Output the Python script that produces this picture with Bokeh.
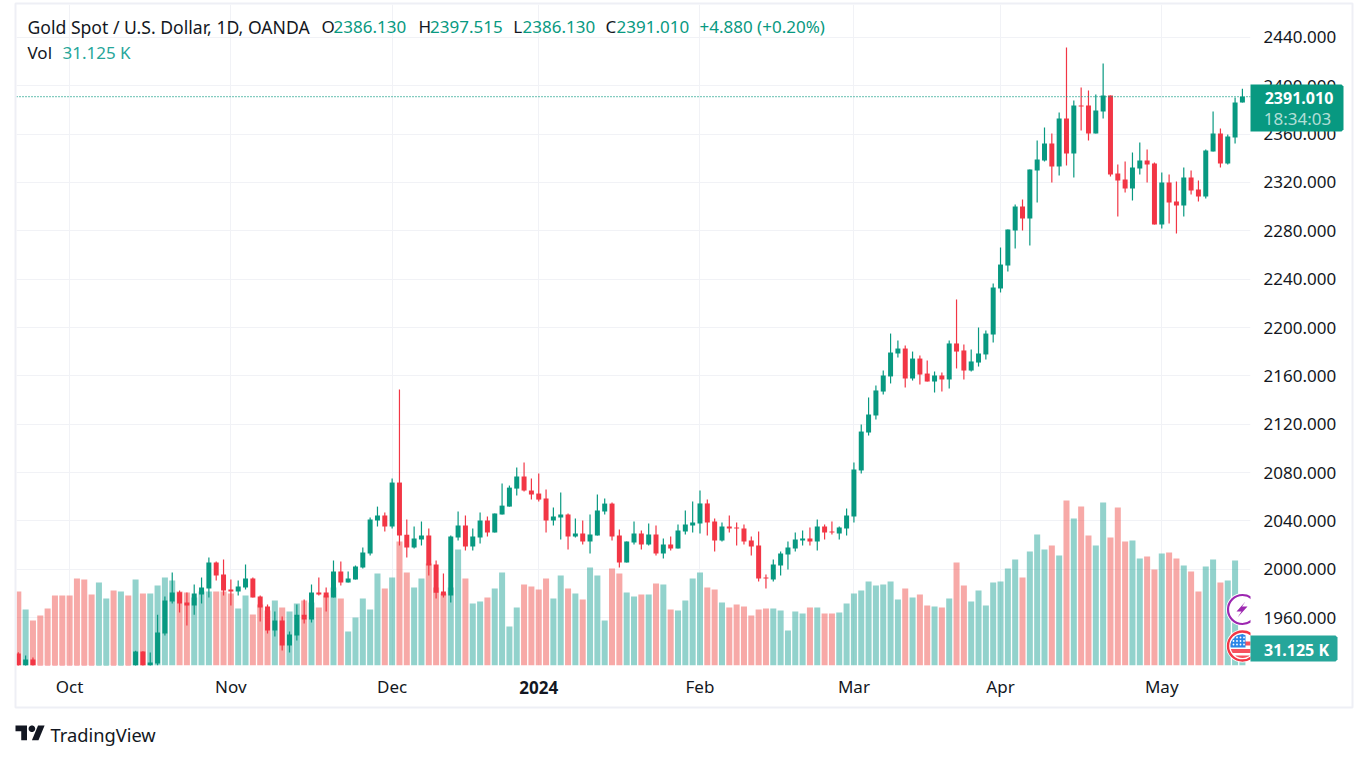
from bokeh.plotting import figure
from bokeh.embed import file_html
from bokeh.resources import INLINE
from bokeh.layouts import column
from bokeh.core.properties import value
from bokeh.models import Range1d, FixedTicker, Span, ColumnDataSource
import numpy as np

# ---------- data ----------
opens = [1930.2,1918.0,1925.2,1915.0,1900.0,1875.0,1866.0,1863.0,1848.0,1828.0,1822.0,1820.0,1833.0,1860.0,1858.0,1875.0,
 1870.0,1931.8,1917.0,1921.9,1946.7,1973.2,1980.9,1972.4,1969.9,1979.0,1984.0,2005.5,1995.6,1983.1,1981.5,1984.8,
 1992.2,1977.3,1969.1,1949.2,1957.5,1936.8,1945.1,1962.4,1958.3,1980.7,1980.7,1976.5,1998.0,1988.9,1991.4,2001.3,
 2012.9,2040.2,2044.4,2035.3,2071.7,2028.6,2017.9,2024.5,2027.8,2003.8,1981.5,1978.2,2026.2,2036.1,2018.7,2026.2,
 2040.2,2030.3,2045.2,2051.8,2066.7,2076.7,2065.1,2062.6,2058.5,2040.2,2042.7,2045.2,2027.0,2029.5,2022.9,2027.8,
 2047.7,2054.3,2027.8,2005.5,2022.0,2029.5,2020.4,2028.7,2012.9,2020.4,2017.1,2031.2,2036.2,2037.8,2054.4,2039.5,
 2023.7,2035.3,2034.5,2033.7,2023.7,2019.6,1993.1,1991.5,2003.0,2012.2,2017.1,2023.7,2025.4,2022.9,2035.3,2031.2,
 2029.5,2033.7,2043.6,2081.7,2113.1,2127.2,2147.0,2159.5,2178.5,2182.6,2157.8,2174.3,2161.9,2155.3,2160.3,2157.0,
 2186.8,2181.0,2164.4,2171.0,2177.7,2194.2,2232.3,2251.3,2280.3,2300.1,2290.2,2329.9,2338.2,2352.3,2333.2,2373.0,
 2344.0,2383.7,2383.7,2360.6,2378.8,2392.0,2327.5,2322.5,2315.0,2331.6,2338.2,2335.7,2285.2,2320.0,2304.3,2301.0,
 2324.1,2314.2,2308.4,2345.7,2360.6,2335.7,2357.3,2386.13]
highs = [1931.3,1928.5,1926.9,1918.0,1902.0,1880.0,1875.0,1870.0,1850.0,1833.0,1830.0,1838.0,1865.0,1866.0,1880.0,1878.0,
 1932.6,1932.0,1931.0,1962.4,1977.3,1997.2,1982.3,1980.7,1987.3,1993.1,2009.6,2006.3,2008.0,1991.4,1990.6,2003.8,
 1993.1,1978.2,1970.7,1964.9,1960.8,1948.4,1970.7,1974.9,1987.3,1993.1,1984.8,2007.1,2006.3,1998.0,2003.0,2017.9,
 2042.7,2051.8,2046.9,2075.0,2148.7,2041.1,2035.3,2039.4,2033.6,2007.1,1996.4,2027.8,2047.7,2044.4,2033.6,2046.9,
 2043.6,2046.0,2070.9,2069.2,2084.1,2088.2,2075.0,2079.1,2065.9,2051.0,2063.4,2046.0,2041.9,2040.2,2045.2,2061.8,
 2058.4,2055.1,2032.8,2022.9,2039.4,2032.0,2037.8,2036.1,2025.3,2027.0,2037.0,2048.6,2056.0,2065.1,2057.7,2041.9,
 2038.6,2044.4,2038.6,2037.0,2027.0,2031.2,1995.6,2008.0,2014.6,2022.9,2030.4,2032.0,2034.5,2041.1,2037.0,2039.5,
 2035.3,2050.2,2088.3,2119.7,2142.1,2152.0,2164.4,2195.0,2189.2,2185.1,2180.1,2176.8,2172.7,2163.6,2162.8,2189.2,
 2223.2,2185.9,2181.8,2200.0,2197.5,2236.4,2266.2,2281.1,2301.8,2306.0,2330.8,2354.8,2365.5,2360.6,2377.9,2431.7,
 2387.9,2398.6,2396.1,2392.8,2418.5,2392.0,2334.9,2337.4,2344.8,2353.1,2347.3,2336.6,2328.3,2326.6,2320.8,2332.4,
 2329.9,2321.7,2347.3,2378.8,2364.7,2359.7,2390.4,2397.515]
lows = [1915.0,1915.0,1912.0,1895.0,1872.0,1860.0,1858.0,1845.0,1825.0,1818.0,1815.0,1815.0,1830.0,1850.0,1855.0,1865.0,
 1867.0,1910.0,1912.0,1920.2,1945.1,1971.6,1964.1,1953.4,1962.4,1971.6,1976.5,1990.6,1978.2,1969.9,1978.2,1983.1,
 1976.5,1956.7,1946.7,1944.2,1932.7,1931.0,1941.0,1955.0,1955.8,1978.2,1965.0,1976.5,1986.4,1988.9,1991.4,2000.5,
 2011.3,2035.3,2031.1,2033.6,2019.6,2009.6,2017.1,2019.6,1994.7,1975.7,1976.5,1972.4,2023.7,2015.4,2015.4,2021.2,
 2027.0,2030.3,2045.2,2051.8,2060.9,2064.2,2057.6,2056.0,2030.3,2036.1,2024.5,2016.2,2026.2,2020.4,2012.9,2027.8,
 2045.2,2023.7,2001.3,2005.5,2020.4,2016.2,2019.6,2011.3,2008.8,2015.5,2017.1,2028.7,2030.4,2029.5,2027.9,2014.6,
 2022.9,2030.4,2019.6,2020.4,2011.3,1989.8,1984.0,1989.8,1994.8,1999.7,2014.6,2019.6,2019.6,2015.5,2024.6,2028.7,
 2024.6,2027.9,2038.6,2079.2,2110.6,2123.9,2144.6,2153.7,2175.2,2150.3,2156.1,2152.8,2155.3,2146.2,2147.0,2149.5,
 2166.1,2157.0,2163.6,2167.7,2173.5,2187.6,2229.0,2246.3,2265.4,2280.3,2267.9,2303.5,2337.4,2320.0,2325.8,2334.1,
 2324.1,2363.0,2354.8,2360.6,2373.0,2325.0,2291.9,2311.7,2305.1,2326.6,2320.0,2285.2,2281.9,2286.1,2277.8,2291.9,
 2310.1,2304.3,2306.8,2345.7,2332.4,2334.9,2352.3,2386.13]
closes = [1918.0,1925.2,1915.0,1900.0,1875.0,1866.0,1863.0,1848.0,1828.0,1822.0,1820.0,1833.0,1860.0,1858.0,1875.0,1870.0,
 1931.8,1919.0,1922.7,1947.6,1974.0,1980.7,1971.6,1969.9,1979.8,1984.8,2005.5,1994.7,1982.3,1981.5,1985.6,1992.2,
 1976.5,1968.2,1949.2,1957.5,1936.8,1945.9,1962.4,1958.3,1980.7,1979.0,1976.5,1998.0,1988.9,1992.2,2002.2,2013.8,
 2041.1,2044.4,2035.3,2071.7,2027.8,2017.9,2025.3,2027.8,2003.0,1980.6,1978.2,2027.0,2036.1,2018.7,2027.0,2040.2,
 2030.3,2046.0,2052.6,2067.5,2076.7,2065.1,2061.8,2057.6,2040.2,2043.5,2045.2,2027.0,2029.5,2022.9,2028.7,2048.5,
 2054.3,2027.0,2005.5,2022.9,2029.5,2020.4,2028.7,2012.9,2020.4,2017.1,2032.0,2037.0,2038.6,2054.4,2038.6,2023.7,
 2035.3,2033.7,2033.7,2022.9,2018.8,1992.3,1992.3,2003.9,2013.0,2018.0,2024.6,2025.4,2022.9,2035.3,2030.4,2030.4,
 2034.5,2044.4,2082.5,2113.9,2128.0,2147.9,2160.3,2179.3,2182.6,2157.8,2174.3,2161.1,2155.3,2160.3,2157.0,2186.8,
 2180.1,2164.4,2171.9,2178.5,2195.0,2233.1,2252.1,2281.1,2300.1,2290.2,2330.8,2339.0,2352.3,2333.2,2373.0,2344.0,
 2383.7,2382.9,2360.6,2379.6,2392.0,2326.6,2321.7,2315.0,2332.4,2338.2,2334.9,2285.2,2320.0,2303.5,2301.0,2324.1,
 2313.4,2308.4,2346.5,2360.6,2335.7,2358.1,2386.2,2391.01]
volumes_k = [135.4,102.5,82.4,91.5,104.3,128.1,128.1,128.1,159.2,157.4,129.9,151.9,122.6,137.3,135.4,128.1,
 157.4,131.8,131.8,146.4,161.0,155.6,135.4,133.6,124.4,135.4,135.4,135.4,135.4,131.8,104.3,128.1,
 93.3,111.6,100.7,119.0,106.1,98.8,113.5,119.0,115.3,106.1,128.1,142.7,122.6,62.2,87.8,122.6,
 102.5,168.4,140.9,161.0,226.9,170.2,142.7,159.2,186.7,142.7,131.8,142.7,212.3,159.2,113.5,117.1,
 124.4,140.9,170.2,71.4,106.1,148.2,144.6,139.1,159.2,122.6,164.7,140.9,131.8,120.8,179.3,164.7,
 82.4,177.5,168.4,133.6,126.3,129.9,129.9,150.1,148.2,102.5,100.7,119.0,159.2,170.2,142.7,139.1,
 115.3,106.1,111.6,108.0,91.5,102.5,104.3,104.3,100.7,64.1,98.8,95.2,106.1,106.1,95.2,95.2,
 97.0,113.5,131.8,137.3,153.7,146.4,148.2,153.7,120.8,140.9,124.4,129.9,109.8,108.0,106.1,122.6,
 188.5,146.4,117.1,137.3,109.8,151.9,153.7,177.5,194.0,161.0,208.6,239.7,212.3,219.6,201.3,302.0,
 269.0,291.0,237.9,219.6,298.3,234.2,289.1,226.9,228.8,195.8,199.5,175.7,205.0,206.8,195.8,183.0,
 172.0,135.4,181.2,194.0,151.9,155.6,192.2,31.125]
price_ticks = [1960,2000,2040,2080,2120,2160,2200,2240,2280,2320,2360,2400,2440]
month_bars = [7,29,51,71,93,114,134,156]
month_labels = ["Oct","Nov","Dec","2024","Feb","Mar","Apr","May"]
last_close = closes[-1]

GREEN, RED = "#089981", "#f23645"
VGREEN, VRED = "#26a69a", "#ef5350"
TEXT = "#131722"
FONT = "Noto Sans"
W, H = 1361, 751
F_L, F_R, F_T, F_B = 16, 1250, 4, 665      # plot pane, in page pixels

idx = np.arange(len(opens))
o, h, l, c = map(np.array, (opens, highs, lows, closes))
up = c >= o
src = ColumnDataSource(dict(x=idx, o=o, h=h, l=l, c=c, v=volumes_k,
    top=np.maximum(o, c), bot=np.minimum(o, c),
    col=[GREEN if u else RED for u in up],
    vcol=[VGREEN if u else VRED for u in up]))

x0, step = 17.8, 7.33
p = figure(width=W, height=H, output_backend="svg", toolbar_location=None,
           x_range=Range1d((F_L - x0) / step, (F_R - x0) / step),
           y_range=Range1d(1920.3, 2467.3),
           x_axis_location="below", y_axis_location="right",
           min_border_left=F_L, min_border_right=W - F_R,
           min_border_top=F_T, min_border_bottom=H - F_B,
           background_fill_color="white", border_fill_color="white")
p.frame_align = False
p.outline_line_color = None
p.extra_y_ranges["vol"] = Range1d(0, (F_B - F_T) * 1.83)
p.extra_x_ranges["px"] = Range1d(F_L, F_R)
p.extra_y_ranges["py"] = Range1d(F_B, F_T)

p.yaxis.ticker = FixedTicker(ticks=price_ticks)
p.yaxis.major_label_overrides = {t: f"{t}.000" for t in price_ticks}
p.xaxis.ticker = FixedTicker(ticks=month_bars)
p.xaxis.major_label_overrides = {b: ("" if s == "2024" else s) for b, s in zip(month_bars, month_labels)}
for ax in (p.xaxis[0], p.yaxis[0]):
    ax.axis_line_color = None
    ax.major_tick_line_color = None
    ax.minor_tick_line_color = None
    ax.major_label_text_font = FONT
    ax.major_label_text_color = TEXT
    ax.major_label_text_font_size = "17px"
p.yaxis.major_label_standoff = 7
p.xaxis.major_label_standoff = 3
p.xgrid.grid_line_color = "#f1f2f6"
p.ygrid.grid_line_color = "#f1f2f6"

p.vbar(x="x", top="v", bottom=0, width=0.82, fill_color="vcol", line_color=None, fill_alpha=0.5,
       y_range_name="vol", source=src)
p.segment(x0="x", x1="x", y0="l", y1="h", line_color="col", line_width=1.2, source=src)
p.vbar(x="x", top="top", bottom="bot", width=0.68, fill_color="col", line_color=None, source=src)

p.add_layout(Span(location=last_close, dimension="width", line_color=GREEN, line_width=1.3, line_dash="1 2"))

# event markers at the pane's right edge (clipped by the pane)
ang = np.linspace(0, 2 * np.pi, 80)
def band(cx, cy, r, y0, y1, x_max=None):
    ys = np.linspace(y0, y1, 12)
    half = np.sqrt(np.maximum(r * r - (ys - cy) ** 2, 0))
    left, right = cx - half, cx + half
    if x_max is not None:
        right = np.minimum(right, x_max)
    return list(np.r_[left, right[::-1]]), list(np.r_[ys, ys[::-1]])

ICON = dict(x_range_name="px", y_range_name="py")
p.scatter([1242], [609], size=33, marker="circle", fill_color="white", line_color=None, **ICON)
p.scatter([1242], [609], size=29, marker="circle", fill_color="white", line_color="#9c27b0", line_width=2.2, **ICON)
p.patch([1245, 1236, 1241, 1237, 1247, 1241.5], [601, 611, 611, 617, 606, 606], fill_color="#9c27b0", line_color=None, **ICON)
cx, cy = 1242, 645.5
p.scatter([cx], [cy], size=33, marker="circle", fill_color="white", line_color=None, **ICON)
p.scatter([cx], [cy], size=29, marker="circle", fill_color="white", line_color="#f23645", line_width=2.4, **ICON)
for y0, y1 in ((641, 645), (648.5, 652.5), (655, 657.5)):
    xs, ys = band(cx, cy, 12, y0, y1)
    p.patch(xs, ys, fill_color="#f7525f", line_color=None, **ICON)
xs, ys = band(cx, cy, 12, 633.5, 647, x_max=1245)
p.patch(xs, ys, fill_color="#2a87e8", line_color=None, **ICON)
dx = [1233, 1236.5, 1240, 1243.5] * 3
dy = [637] * 4 + [640.5] * 4 + [644] * 4
p.scatter(dx, dy, size=1.8, marker="circle", fill_color="white", line_color=None, **ICON)

# ---------- transparent page-pixel layer: frame, tags, legend, logo ----------
ov = figure(width=W, height=H, output_backend="svg", toolbar_location=None,
            x_range=Range1d(0, W), y_range=Range1d(H, 0),
            x_axis_location=None, y_axis_location=None,
            min_border_left=0, min_border_right=0, min_border_top=0, min_border_bottom=0,
            background_fill_color=None, border_fill_color=None)
ov.frame_align = False
ov.outline_line_color = None
ov.grid.visible = False
ov.margin = (-H, 0, 0, 0)

def label(x, y, text, color=TEXT, size="17px", style="normal", align="left", alpha=1.0):
    ov.text([x], [y], text=[text], text_color=color, text_font=value(FONT), text_font_size=value(size),
            text_font_style=style, text_align=align, text_baseline="middle", text_alpha=alpha)
def tag(l_, r_, t_, b_, color):          # flat left edge, slightly rounded right corners
    r = 2
    ov.patch([l_, r_ - r, r_, r_, r_ - r, l_], [t_, t_, t_ + r, b_ - r, b_, b_], fill_color=color, line_color=None)

ov.quad(left=15, right=1352, top=3, bottom=707, fill_alpha=0, line_color="#eeeff5", line_width=2)
tag(F_R, 1343, 84, 131, GREEN)
tag(F_R, 1337, 635, 661, VGREEN)
label(1298.5, 97, "2391.010", "white", align="center", style="bold", size="16px")
label(1297, 118, "18:34:03", "white", align="center", alpha=0.7)
label(1296, 649, "31.125 K", "white", align="center", style="bold", size="16px")

label(27, 26, "Gold Spot / U.S. Dollar, 1D, OANDA", size="17.6px")
hdr = [(321, "O", TEXT), (333, "2386.130", GREEN), (418, "H", TEXT), (429.5, "2397.515", GREEN),
       (512.7, "L", TEXT), (522, "2386.130", GREEN), (605, "C", TEXT), (616, "2391.010", GREEN),
       (699, "+4.880 (+0.20%)", GREEN)]
for x, t, col in hdr:
    label(x, 26, t, col)
label(27, 52, "Vol")
label(62, 52, "31.125 K", VGREEN)

label(x0 + 71 * step, 687, "2024", TEXT, "17px", "bold", "center")

# TradingView mark
s, ox, oy = 0.82, 15, 721.7
for pts in ([(14,22),(7,22),(7,11),(0,11),(0,4),(14,4)], [(28,22),(20,22),(27.5,4),(35.5,4)],
            list(zip(20 + 4 * np.cos(ang), 8 + 4 * np.sin(ang)))):
    ov.patch([ox + s * a for a, _ in pts], [oy + s * b for _, b in pts], fill_color=TEXT, line_color=None)
label(50, 734, "TradingView", TEXT, "18.3px")

open("out.html", "w").write(file_html(column(p, ov), INLINE))
